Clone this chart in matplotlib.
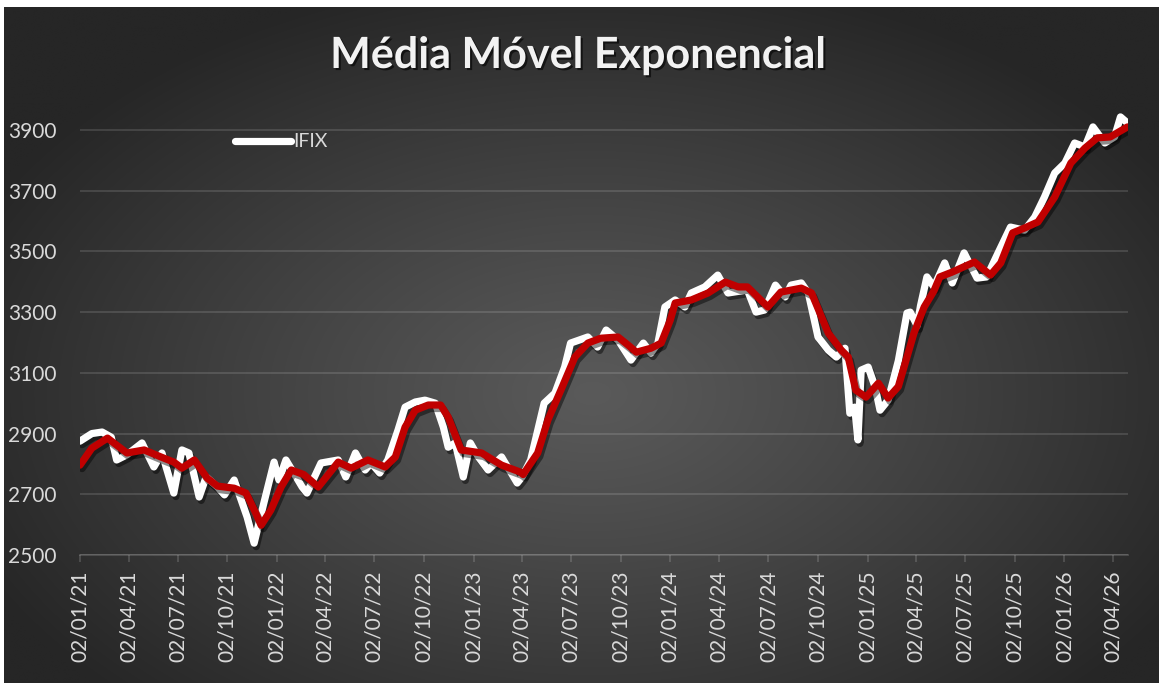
import numpy as np
import pandas as pd
import matplotlib
matplotlib.use("Agg")
import matplotlib.pyplot as plt
import matplotlib.dates as mdates
import matplotlib.patheffects as pe

# ---------------- data ----------------
ifix_dates = [
    "2021-01-02", "2021-01-24", "2021-02-12", "2021-03-01", "2021-03-11", "2021-03-30",
    "2021-04-27", "2021-05-19", "2021-06-03", "2021-06-25", "2021-07-10", "2021-07-23",
    "2021-08-11", "2021-08-24", "2021-09-14", "2021-09-27", "2021-10-15", "2021-10-28",
    "2021-11-08", "2021-11-21", "2021-12-09", "2021-12-28", "2022-01-06", "2022-01-19",
    "2022-02-07", "2022-02-18", "2022-02-27", "2022-03-25", "2022-04-26", "2022-05-10",
    "2022-05-28", "2022-06-15", "2022-06-26", "2022-07-12", "2022-07-27", "2022-08-15",
    "2022-08-28", "2022-09-16", "2022-10-04", "2022-10-23", "2022-11-07", "2022-11-16",
    "2022-11-29", "2022-12-14", "2022-12-27", "2023-01-11", "2023-01-29", "2023-02-23",
    "2023-03-24", "2023-04-02", "2023-04-18", "2023-05-13", "2023-06-02", "2023-06-20",
    "2023-07-01", "2023-08-02", "2023-08-20", "2023-09-05", "2023-09-27", "2023-10-21",
    "2023-11-13", "2023-11-27", "2023-12-10", "2023-12-23", "2024-01-11", "2024-01-29",
    "2024-02-10", "2024-03-06", "2024-03-30", "2024-04-18", "2024-05-24", "2024-06-09",
    "2024-06-25", "2024-07-15", "2024-08-02", "2024-08-13", "2024-09-01", "2024-09-14",
    "2024-10-02", "2024-10-21", "2024-11-05", "2024-11-21", "2024-11-30", "2024-12-09",
    "2024-12-15", "2024-12-21", "2025-01-03", "2025-01-16", "2025-01-25", "2025-02-09",
    "2025-02-28", "2025-03-16", "2025-03-22", "2025-04-04", "2025-04-10", "2025-04-22",
    "2025-05-05", "2025-05-25", "2025-06-08", "2025-06-30", "2025-07-24", "2025-08-11",
    "2025-09-01", "2025-09-24", "2025-10-20", "2025-11-08", "2025-11-26", "2025-12-15",
    "2026-01-03", "2026-01-21", "2026-02-09", "2026-02-24", "2026-03-18", "2026-04-05",
    "2026-04-16", "2026-04-29",
]
ifix_values = [
    2875, 2900, 2905, 2888, 2813, 2830,
    2869, 2790, 2836, 2704, 2846, 2836,
    2691, 2757, 2724, 2698, 2747, 2681,
    2625, 2539, 2671, 2806, 2747, 2813,
    2757, 2724, 2704, 2803, 2813, 2757,
    2836, 2780, 2803, 2770, 2813, 2912,
    2987, 3004, 3010, 3000, 2921, 2855,
    2869, 2757, 2869, 2823, 2780, 2823,
    2737, 2757, 2813, 3000, 3033, 3119,
    3198, 3218, 3185, 3241, 3208, 3142,
    3198, 3165, 3198, 3317, 3340, 3317,
    3363, 3383, 3422, 3363, 3373, 3300,
    3307, 3389, 3350, 3389, 3396, 3363,
    3218, 3175, 3152, 3181, 2967, 2987,
    2879, 3109, 3119, 3053, 2977, 3010,
    3140, 3297, 3300, 3255, 3320, 3416,
    3383, 3462, 3396, 3495, 3412, 3416,
    3495, 3580, 3570, 3613, 3679, 3758,
    3791, 3857, 3844, 3910, 3857, 3877,
    3943, 3923,
]

ema_dates = [
    "2021-01-02", "2021-01-24", "2021-02-22", "2021-03-30", "2021-05-01", "2021-06-01",
    "2021-06-25", "2021-07-10", "2021-08-02", "2021-08-26", "2021-09-14", "2021-10-15",
    "2021-11-06", "2021-11-24", "2021-12-04", "2021-12-22", "2022-01-10", "2022-01-29",
    "2022-02-21", "2022-03-20", "2022-04-26", "2022-05-20", "2022-06-20", "2022-07-22",
    "2022-08-10", "2022-08-28", "2022-09-16", "2022-10-10", "2022-11-02", "2022-11-16",
    "2022-12-10", "2023-01-17", "2023-02-23", "2023-03-30", "2023-04-04", "2023-05-01",
    "2023-05-20", "2023-06-13", "2023-07-09", "2023-08-02", "2023-08-26", "2023-09-27",
    "2023-10-16", "2023-10-31", "2023-11-27", "2023-12-16", "2024-01-02", "2024-01-11",
    "2024-02-10", "2024-03-12", "2024-04-13", "2024-05-07", "2024-05-24", "2024-07-01",
    "2024-07-25", "2024-09-01", "2024-09-20", "2024-10-21", "2024-11-14", "2024-11-27",
    "2024-12-11", "2024-12-30", "2025-01-22", "2025-02-09", "2025-02-28", "2025-03-29",
    "2025-04-17", "2025-05-05", "2025-05-16", "2025-06-08", "2025-07-19", "2025-08-18",
    "2025-09-06", "2025-09-28", "2025-10-20", "2025-11-14", "2025-12-15", "2026-01-14",
    "2026-02-09", "2026-03-04", "2026-03-28", "2026-04-29",
]
ema_values = [
    2796, 2852, 2885, 2836, 2846, 2823,
    2806, 2786, 2813, 2753, 2727, 2720,
    2704, 2638, 2598, 2648, 2724, 2780,
    2765, 2724, 2806, 2786, 2813, 2790,
    2823, 2921, 2977, 2994, 2994, 2954,
    2846, 2836, 2796, 2773, 2765, 2836,
    2945, 3043, 3152, 3198, 3214, 3218,
    3191, 3168, 3181, 3198, 3274, 3330,
    3340, 3363, 3399, 3383, 3383, 3317,
    3366, 3379, 3363, 3231, 3175, 3152,
    3043, 3020, 3066, 3017, 3055, 3231,
    3317, 3370, 3416, 3432, 3465, 3422,
    3462, 3561, 3577, 3597, 3679, 3791,
    3840, 3874, 3877, 3910,
]

title_text = "Média Móvel Exponencial"
legend_label = "IFIX"
y_ticks = [2500, 2700, 2900, 3100, 3300, 3500, 3700, 3900]
x_tick_dates = [
    "2021-01-02", "2021-04-02", "2021-07-02", "2021-10-02",
    "2022-01-02", "2022-04-02", "2022-07-02", "2022-10-02",
    "2023-01-02", "2023-04-02", "2023-07-02", "2023-10-02",
    "2024-01-02", "2024-04-02", "2024-07-02", "2024-10-02",
    "2025-01-02", "2025-04-02", "2025-07-02", "2025-10-02",
    "2026-01-02", "2026-04-02",
]
x_start, x_end = "2021-01-02", "2026-04-30"

# ---------------- figure ----------------
W, H = 1159, 683
fig = plt.figure(figsize=(W / 100, H / 100), dpi=100)
fig.patch.set_facecolor("white")

# radial gradient background (chart area, with thin white border at top/left)
bg_ax = fig.add_axes([4 / W, 0, 1 - 4 / W, 1 - 7 / H])
bg_ax.set_axis_off()
gy, gx = np.mgrid[0:H, 0:W]
r = np.sqrt(((gx - 590) / 680.0) ** 2 + ((gy - 390) / 430.0) ** 2)
r = np.clip(r, 0, 1)
v = (90 - 52 * r ** 1.1) / 255.0
bg_ax.imshow(np.dstack([v, v, v]), aspect="auto", extent=[0, 1, 0, 1], zorder=0)

ax = fig.add_axes([80 / W, 1 - 555 / H, (1128 - 80) / W, (555 - 99.6) / H])
ax.set_facecolor("none")

d_ifix = pd.to_datetime(ifix_dates)
d_ema = pd.to_datetime(ema_dates)

shadow = [pe.SimpleLineShadow(offset=(1.5, -2.5), shadow_color="black", alpha=0.45), pe.Normal()]

ax.plot(d_ifix, ifix_values, color="white", lw=5.2, solid_capstyle="round",
        solid_joinstyle="round", label=legend_label, path_effects=shadow, zorder=3)
ax.plot(d_ema, ema_values, color="#C00000", lw=5.2, solid_capstyle="round",
        solid_joinstyle="round", label="_nolegend_", path_effects=shadow, zorder=4)

ax.set_ylim(2500, 4000)
ax.set_xlim(pd.Timestamp(x_start), pd.Timestamp(x_end))
ax.set_yticks(y_ticks)
ax.set_xticks(pd.to_datetime(x_tick_dates))
ax.xaxis.set_major_formatter(mdates.DateFormatter("%d/%m/%y"))

font = "Lato"
grid_col = "#6e6e6e"
ax.grid(axis="y", color="white", alpha=0.13, lw=1.4)
ax.set_axisbelow(True)
for s in ["top", "right", "left"]:
    ax.spines[s].set_visible(False)
ax.spines["bottom"].set_color((1, 1, 1, 0.15))
ax.spines["bottom"].set_linewidth(1.4)

ax.tick_params(axis="y", length=0, pad=17, labelsize=15, labelcolor="#d9d9d9")
ax.tick_params(axis="x", length=5, width=1.4, color=(1, 1, 1, 0.15), pad=6,
               labelsize=15, labelcolor="#d9d9d9", labelrotation=90)
for lab in ax.get_xticklabels() + ax.get_yticklabels():
    lab.set_fontfamily(font)

fig.text(578 / W, 1 - 55 / H, title_text, ha="center", va="center",
         fontsize=31, fontweight="bold", color="#f2f2f2", fontfamily=font,
         path_effects=[pe.withSimplePatchShadow(offset=(1.5, -1.5), shadow_rgbFace="black", alpha=0.6)])

leg = ax.legend(loc="upper left", bbox_to_anchor=((217 - 80) / (1128 - 80), (555 - 116) / (555 - 99.6)),
                frameon=False, handlelength=2.9, handletextpad=0.1,
                prop={"family": font, "size": 14})
for t in leg.get_texts():
    t.set_color("#d9d9d9")
for h in leg.get_lines():
    h.set_path_effects([pe.Normal()])
    h.set_linewidth(5.2)

fig.savefig("out.png", dpi=100)
